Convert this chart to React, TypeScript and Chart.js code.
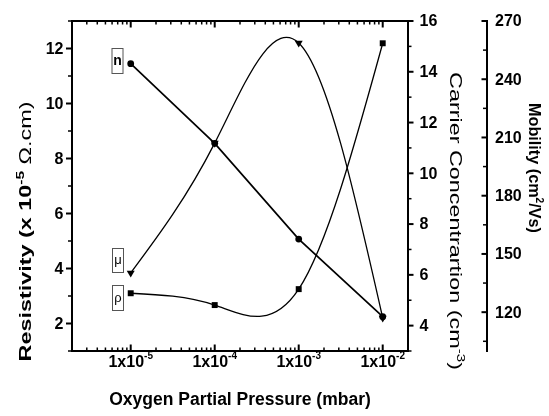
import React, { useEffect, useRef } from 'react';
import { Chart, registerables } from 'chart.js';

Chart.register(...registerables);

// ---- data ----
const pressures = [1e-5, 1e-4, 1e-3, 1e-2];
const resistivity = [3.1, 2.67, 3.25, 12.19];
const carrier = [14.32, 11.18, 7.41, 4.35];
const mobility = [140.2, 207.1, 258.7, 117];

// ---- ticks ----
const xMajorTicks = [1e-5, 1e-4, 1e-3, 1e-2];
const xTickExponents = ['-5', '-4', '-3', '-2'];
const xDecades = [-6, -5, -4, -3, -2];
const xMultipliers = [2, 3, 4, 5, 6, 7, 8, 9];
const resTicks = [2, 4, 6, 8, 10, 12];
const resMinor = [1, 3, 5, 7, 9, 11, 13];
const carrierTicks = [4, 6, 8, 10, 12, 14, 16];
const carrierMinor = [3, 5, 7, 9, 11, 13, 15];
const mobilityTicks = [120, 150, 180, 210, 240, 270];
const mobilityMinor = [105, 135, 165, 195, 225, 255];

const FF = "'Liberation Sans', Arial, Helvetica, sans-serif";

type Part = { t: string; font: string; dy?: number };

function drawRich(
  ctx: CanvasRenderingContext2D,
  parts: Part[],
  x: number,
  y: number,
  rot: number,
  align: 'center' | 'left' | 'right',
  targetLen?: number
) {
  ctx.save();
  const widths = parts.map((p) => {
    ctx.font = p.font;
    return ctx.measureText(p.t).width;
  });
  const total = widths.reduce((a, b) => a + b, 0);
  const sx = targetLen ? targetLen / total : 1;
  ctx.translate(x, y);
  ctx.rotate(rot);
  ctx.scale(sx, 1);
  let cx = align === 'center' ? -total / 2 : align === 'right' ? -total : 0;
  ctx.textBaseline = 'alphabetic';
  ctx.textAlign = 'left';
  ctx.fillStyle = '#000';
  parts.forEach((p, i) => {
    ctx.font = p.font;
    ctx.fillText(p.t, cx, -(p.dy || 0));
    cx += widths[i];
  });
  ctx.restore();
}

function line(ctx: CanvasRenderingContext2D, x1: number, y1: number, x2: number, y2: number, w: number) {
  ctx.lineWidth = w;
  ctx.beginPath();
  ctx.moveTo(x1, y1);
  ctx.lineTo(x2, y2);
  ctx.stroke();
}

// Natural cubic spline through the rendered points (in pixel space),
// expressed as Bezier control points for Chart.js' own line drawing.
const splinePlugin = {
  id: 'naturalSpline',
  beforeDatasetDraw(chart: any, args: any) {
    const meta = args.meta;
    const ds = chart.data.datasets[args.index];
    if (!ds.naturalSpline) return;
    const pts = meta.data;
    const n = pts.length;
    if (n < 3) return;
    const x = pts.map((p: any) => p.x);
    const y = pts.map((p: any) => p.y);
    const h: number[] = [];
    for (let i = 0; i < n - 1; i++) h.push(x[i + 1] - x[i]);
    const M = new Array(n).fill(0);
    const a: number[] = [], b: number[] = [], c: number[] = [], r: number[] = [];
    for (let i = 1; i < n - 1; i++) {
      a.push(h[i - 1]);
      b.push(2 * (h[i - 1] + h[i]));
      c.push(h[i]);
      r.push(6 * ((y[i + 1] - y[i]) / h[i] - (y[i] - y[i - 1]) / h[i - 1]));
    }
    const m = b.length;
    for (let i = 1; i < m; i++) {
      const w = a[i] / b[i - 1];
      b[i] -= w * c[i - 1];
      r[i] -= w * r[i - 1];
    }
    const sol = new Array(m).fill(0);
    for (let i = m - 1; i >= 0; i--) {
      sol[i] = (r[i] - (i < m - 1 ? c[i] * sol[i + 1] : 0)) / b[i];
    }
    for (let i = 0; i < m; i++) M[i + 1] = sol[i];
    for (let i = 0; i < n - 1; i++) {
      const s = (y[i + 1] - y[i]) / h[i];
      const d0 = s - (h[i] * (2 * M[i] + M[i + 1])) / 6;
      const d1 = s + (h[i] * (M[i] + 2 * M[i + 1])) / 6;
      pts[i].cp2x = x[i] + h[i] / 3;
      pts[i].cp2y = y[i] + (h[i] / 3) * d0;
      pts[i + 1].cp1x = x[i + 1] - h[i] / 3;
      pts[i + 1].cp1y = y[i + 1] - (h[i] / 3) * d1;
    }
    pts[0].cp1x = x[0];
    pts[0].cp1y = y[0];
    pts[n - 1].cp2x = x[n - 1];
    pts[n - 1].cp2y = y[n - 1];
    meta.dataset._pointsUpdated = true;
    meta.dataset._path = undefined;
  },
};

const axesPlugin = {
  id: 'customAxes',
  afterDraw(chart: any) {
    const ctx: CanvasRenderingContext2D = chart.ctx;
    const { left, right, top, bottom } = chart.chartArea;
    const xs = chart.scales.x;
    const yR = chart.scales.yRes;
    const yN = chart.scales.yN;
    const yM = chart.scales.yMob;
    const mobX = right + 79;
    ctx.save();
    ctx.strokeStyle = '#000';
    ctx.lineCap = 'butt';

    ctx.lineWidth = 2;
    ctx.strokeRect(left, top, right - left, bottom - top);

    xDecades.forEach((e) => {
      xMultipliers.forEach((k) => {
        const v = k * Math.pow(10, e);
        if (v < xs.min * 0.999 || v > xs.max * 1.001) return;
        const px = xs.getPixelForValue(v);
        line(ctx, px, bottom, px, bottom - 3.5, 1.5);
        line(ctx, px, top, px, top + 3.5, 1.5);
      });
    });
    xMajorTicks.forEach((v, i) => {
      const px = xs.getPixelForValue(v);
      line(ctx, px, bottom, px, bottom - 6.5, 2);
      line(ctx, px, top, px, top + 6.5, 2);
      drawRich(
        ctx,
        [
          { t: '1x10', font: `bold 16px ${FF}` },
          { t: xTickExponents[i], font: `bold 10px ${FF}`, dy: 7.5 },
        ],
        px,
        366.5,
        0,
        'center'
      );
    });

    resMinor.forEach((v) => {
      const py = yR.getPixelForValue(v);
      line(ctx, left, py, left - 4, py, 1.5);
    });
    ctx.font = `bold 16px ${FF}`;
    ctx.fillStyle = '#000';
    ctx.textAlign = 'right';
    ctx.textBaseline = 'middle';
    resTicks.forEach((v) => {
      const py = yR.getPixelForValue(v);
      line(ctx, left, py, left - 6, py, 2);
      ctx.fillText(String(v), left - 8.5, py + 1);
    });

    carrierMinor.forEach((v) => {
      const py = yN.getPixelForValue(v);
      line(ctx, right, py, right + 3.5, py, 1.5);
    });
    ctx.textAlign = 'left';
    carrierTicks.forEach((v) => {
      const py = yN.getPixelForValue(v);
      line(ctx, right, py, right + 5.5, py, 2);
      ctx.fillText(String(v), right + 11.5, py + 1);
    });

    line(ctx, mobX, yM.getPixelForValue(yM.max) - 1, mobX, yM.getPixelForValue(yM.min) + 1, 2);
    mobilityMinor.forEach((v) => {
      const py = yM.getPixelForValue(v);
      line(ctx, mobX, py, mobX - 4, py, 1.5);
    });
    mobilityTicks.forEach((v) => {
      const py = yM.getPixelForValue(v);
      line(ctx, mobX, py, mobX - 5.5, py, 2);
      ctx.fillText(String(v), mobX + 8, py + 1);
    });

    drawRich(
      ctx,
      [{ t: 'Oxygen Partial Pressure (mbar)', font: `bold 17.5px ${FF}` }],
      (left + right) / 2,
      405,
      0,
      'center'
    );
    drawRich(
      ctx,
      [
        { t: 'Resistivity (x 10', font: `bold 16.5px ${FF}` },
        { t: '-5', font: `bold 11px ${FF}`, dy: 7 },
        { t: ' \u03A9.cm)', font: `16.5px ${FF}` },
      ],
      31,
      231.5,
      -Math.PI / 2,
      'center',
      260
    );
    drawRich(
      ctx,
      [
        { t: 'Carrier Concentrartion (cm', font: `17px ${FF}` },
        { t: '-3', font: `11px ${FF}`, dy: 7 },
        { t: ')', font: `17px ${FF}` },
      ],
      450,
      221,
      Math.PI / 2,
      'center',
      298
    );
    drawRich(
      ctx,
      [
        { t: 'Mobility (cm', font: `bold 16px ${FF}` },
        { t: '2', font: `bold 10px ${FF}`, dy: 7 },
        { t: '/Vs)', font: `bold 16px ${FF}` },
      ],
      528.5,
      168,
      Math.PI / 2,
      'center',
      130
    );

    const boxes = [
      { t: 'n', font: `bold 14px ${FF}`, x: 112, y: 48.5, h: 25 },
      { t: '\u03BC', font: `13px ${FF}`, x: 112.5, y: 248.5, h: 24 },
      { t: '\u03C1', font: `13px ${FF}`, x: 112.5, y: 285.5, h: 25 },
    ];
    boxes.forEach((b) => {
      ctx.fillStyle = '#fff';
      ctx.fillRect(b.x, b.y, 11, b.h);
      ctx.strokeStyle = '#555';
      ctx.lineWidth = 1;
      ctx.strokeRect(b.x, b.y, 11, b.h);
      ctx.fillStyle = '#000';
      ctx.font = b.font;
      ctx.textAlign = 'center';
      ctx.textBaseline = 'middle';
      ctx.fillText(b.t, b.x + 5.5, b.y + b.h / 2);
    });
    ctx.restore();
  },
};

export default function App() {
  const ref = useRef<HTMLCanvasElement | null>(null);
  useEffect(() => {
    if (!ref.current) return;
    const pts = (ys: number[]) => pressures.map((p, i) => ({ x: p, y: ys[i] }));
    const chart = new Chart(ref.current, {
      type: 'line',
      data: {
        datasets: [
          {
            label: 'n',
            data: pts(carrier),
            yAxisID: 'yN',
            borderColor: '#000',
            backgroundColor: '#000',
            borderWidth: 1.7,
            tension: 0,
            pointStyle: 'circle',
            pointRadius: 3.4,
            pointBackgroundColor: '#000',
            pointBorderColor: '#000',
            pointBorderWidth: 0,
          },
          {
            label: '\u03BC',
            data: pts(mobility),
            yAxisID: 'yMob',
            naturalSpline: true,
            borderColor: '#000',
            backgroundColor: '#000',
            borderWidth: 1.3,
            tension: 0.4,
            pointStyle: 'triangle',
            pointRotation: 180,
            pointRadius: 4.6,
            pointBackgroundColor: '#000',
            pointBorderColor: '#000',
            pointBorderWidth: 0,
          },
          {
            label: '\u03C1',
            data: pts(resistivity),
            yAxisID: 'yRes',
            naturalSpline: true,
            borderColor: '#000',
            backgroundColor: '#000',
            borderWidth: 1.3,
            tension: 0.4,
            pointStyle: 'rect',
            pointRadius: 4.2,
            pointBackgroundColor: '#000',
            pointBorderColor: '#000',
            pointBorderWidth: 0,
          },
        ],
      } as any,
      options: {
        responsive: false,
        animation: false,
        layout: { padding: { left: 72, right: 141, top: 21, bottom: 65 } },
        plugins: { legend: { display: false }, tooltip: { enabled: false } },
        scales: {
          x: { type: 'logarithmic', min: 2e-6, max: 2e-2, display: false },
          yRes: { type: 'linear', min: 1, max: 13, display: false },
          yN: { type: 'linear', min: 3, max: 16, display: false },
          yMob: { type: 'linear', min: 100, max: 270, display: false },
        },
      } as any,
      plugins: [splinePlugin, axesPlugin],
    });
    return () => chart.destroy();
  }, []);
  return (
    <div style={{ position: 'absolute', left: 0, top: 0, width: 549, height: 416, background: '#fff' }}>
      <canvas ref={ref} width={549} height={416} style={{ display: 'block' }} />
    </div>
  );
}
